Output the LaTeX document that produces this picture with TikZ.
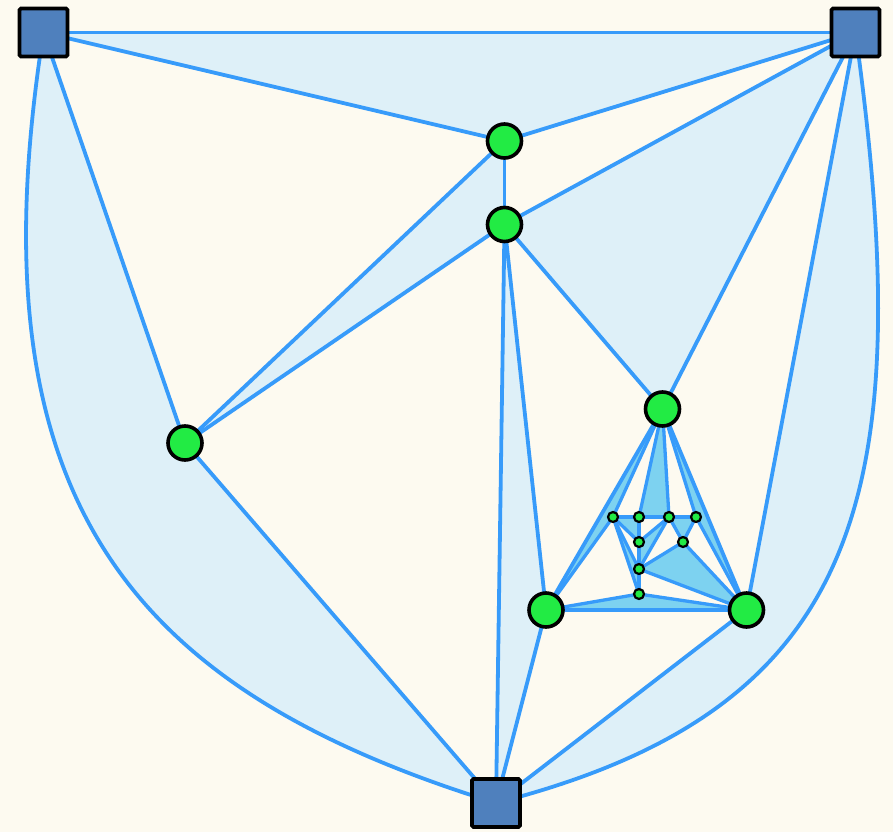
\documentclass[tikz,border=0pt]{standalone}
\usetikzlibrary{backgrounds}
\definecolor{bgc}{RGB}{253,250,240}
\definecolor{edgec}{RGB}{55,155,250}
\definecolor{lightf}{RGB}{222,240,248}
\definecolor{midf}{RGB}{125,210,240}
\definecolor{greenn}{RGB}{34,235,68}
\definecolor{sqc}{RGB}{79,128,189}
\tikzset{
  sq/.style={rectangle,draw=black,fill=sqc,line width=3.8pt,minimum size=48pt,inner sep=0pt,rounded corners=1.5pt},
  bignode/.style={circle,draw=black,fill=greenn,line width=3.6pt,minimum size=34pt,inner sep=0pt},
  smallnode/.style={circle,draw=black,fill=greenn,line width=2.2pt,minimum size=10pt,inner sep=0pt},
  edge/.style={draw=edgec,line width=3.8pt,line join=round},
  iedge/.style={draw=edgec,line width=3.3pt,line join=round},
  lface/.style={fill=lightf},
  mface/.style={fill=midf}
}
\begin{document}
\begin{tikzpicture}[x=1pt,y=-1pt]
\useasboundingbox (0,0) rectangle (893,832);
% nodes
\node[sq] (TL) at (43.5,32.5) {};
\node[sq] (TR) at (855.5,32.5) {};
\node[sq] (BT) at (496,803) {};
\node[bignode] (A) at (504.5,141) {};
\node[bignode] (B) at (504.5,224.5) {};
\node[bignode] (C) at (185,443) {};
\node[bignode] (D) at (662.5,409) {};
\node[bignode] (E) at (546,610) {};
\node[bignode] (F) at (746.5,610) {};
\node[smallnode] (s1) at (613,517) {};
\node[smallnode] (s2) at (639,517) {};
\node[smallnode] (s3) at (669,517) {};
\node[smallnode] (s4) at (696,517) {};
\node[smallnode] (s5) at (639,542) {};
\node[smallnode] (s6) at (683,542) {};
\node[smallnode] (s7) at (639,569) {};
\node[smallnode] (s8) at (639,594) {};
\begin{pgfonlayer}{background}
\fill[bgc] (0,0) rectangle (893,832);
% light faces
\path[lface] (TL.center) -- (TR.center) -- (A.center) -- cycle;
\path[lface] (A.center) -- (B.center) -- (C.center) -- cycle;
\path[lface] (B.center) -- (D.center) -- (TR.center) -- cycle;
\path[lface] (B.center) -- (BT.center) -- (E.center) -- cycle;
\path[lface] (TL.center) -- (C.center) -- (BT.center) .. controls (130,690) and (-30,500) .. (TL.center) -- cycle;
\path[lface] (TR.center) -- (F.center) -- (BT.center) .. controls (860,710) and (920,500) .. (TR.center) -- cycle;
% medium faces
\path[mface] (D.center) -- (E.center) -- (s1.center) -- cycle;
\path[mface] (D.center) -- (s2.center) -- (s3.center) -- cycle;
\path[mface] (D.center) -- (s4.center) -- (F.center) -- cycle;
\path[mface] (s1.center) -- (s2.center) -- (s5.center) -- cycle;
\path[mface] (s3.center) -- (s5.center) -- (s7.center) -- cycle;
\path[mface] (s3.center) -- (s4.center) -- (s6.center) -- cycle;
\path[mface] (s6.center) -- (s7.center) -- (F.center) -- cycle;
\path[mface] (s1.center) -- (s7.center) -- (s8.center) -- cycle;
\path[mface] (E.center) -- (s8.center) -- (F.center) -- cycle;
% arcs
\path[edge] (TL.center) .. controls (-30,500) and (130,690) .. (BT.center);
\path[edge] (TR.center) .. controls (920,500) and (860,710) .. (BT.center);
% outer edges
\foreach \u/\v in {TL/TR,TL/A,TR/A,A/B,TR/B,A/C,B/C,TL/C,C/BT,B/BT,B/E,B/D,TR/D,TR/F,D/E,D/F,E/F,E/BT,F/BT}
  \path[edge] (\u.center) -- (\v.center);
% inner edges
\foreach \u/\v in {D/s1,D/s2,D/s3,D/s4,E/s1,E/s8,F/s4,F/s6,F/s7,F/s8,s1/s2,s2/s3,s3/s4,s1/s5,s1/s7,s1/s8,s2/s5,s3/s5,s3/s7,s3/s6,s4/s6,s5/s7,s6/s7,s7/s8}
  \path[iedge] (\u.center) -- (\v.center);
\end{pgfonlayer}
\end{tikzpicture}
\end{document}
